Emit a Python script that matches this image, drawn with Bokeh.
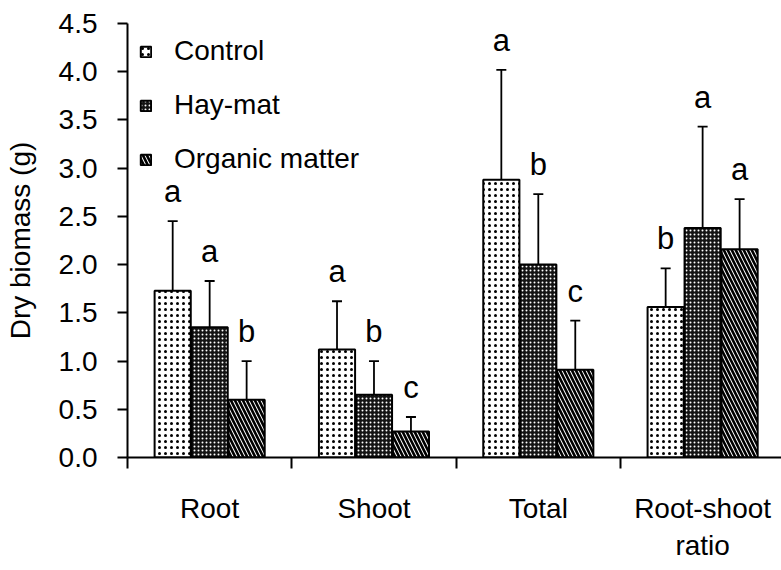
from bokeh.plotting import figure
from bokeh.models import (ColumnDataSource, Range1d, FixedTicker, Whisker, TeeHead,
                          Legend, LegendItem, PrintfTickFormatter)
from bokeh.core.properties import value
from bokeh.embed import file_html
from bokeh.resources import INLINE

# ---- data ----
categories = ["Root", "Shoot", "Total", "Root-shoot\nratio"]
series = ["Control", "Hay-mat", "Organic matter"]
control = [1.73, 1.12, 2.88, 1.56]
control_err = [0.72, 0.50, 1.14, 0.40]
control_letters = ["a", "a", "a", "b"]
haymat = [1.35, 0.65, 2.00, 2.38]
haymat_err = [0.48, 0.35, 0.73, 1.05]
haymat_letters = ["a", "b", "b", "a"]
organic = [0.60, 0.27, 0.91, 2.16]
organic_err = [0.40, 0.15, 0.51, 0.52]
organic_letters = ["b", "c", "c", "a"]
y_ticks = [0.0, 0.5, 1.0, 1.5, 2.0, 2.5, 3.0, 3.5, 4.0, 4.5]

FONT = "Liberation Sans"

p = figure(width=781, height=570, output_backend="svg", toolbar_location=None,
           x_range=Range1d(0, 3.98), y_range=Range1d(0, 4.5),
           min_border_left=127, min_border_right=0, min_border_top=23,
           min_border_bottom=113)
p.outline_line_color = None
p.grid.visible = False
p.background_fill_color = "white"
p.border_fill_color = "white"

styles = [
    dict(fill_color="white", hatch_pattern="dot", hatch_color="black",
         hatch_scale=6, hatch_weight=1.2),
    dict(fill_color="#141414", hatch_pattern="dot", hatch_color="white",
         hatch_scale=4, hatch_weight=1.0),
    dict(fill_color="white", hatch_pattern="left_diagonal_line", hatch_color="black",
         hatch_scale=8, hatch_weight=2.6),
]
vals = [control, haymat, organic]
errs = [control_err, haymat_err, organic_err]
lets = [control_letters, haymat_letters, organic_letters]

bar_w = 0.22
renderers = []
for i, name in enumerate(series):
    xs = [j + 0.5 + (i - 1) * 0.225 for j in range(len(categories))]
    upper = [v + e for v, e in zip(vals[i], errs[i])]
    src = ColumnDataSource(dict(x=xs, top=vals[i], upper=upper, letter=lets[i]))
    r = p.vbar(x="x", top="top", width=bar_w, source=src, line_color="black",
               line_width=2, **styles[i])
    renderers.append(r)
    w = Whisker(source=src, base="x", upper="upper", lower="top", line_width=1.8,
                line_color="black", level="overlay",
                upper_head=TeeHead(size=10, line_width=1.8, line_color="black"),
                lower_head=None)
    p.add_layout(w)
    p.text(x="x", y="upper", text="letter", source=src, text_align="center",
           text_baseline="bottom", y_offset=-12, text_font=value(FONT),
           text_font_size="31px", text_color="black")

# x axis: labels at category centres, tick marks between categories
xa = p.xaxis[0]
xa.ticker = FixedTicker(ticks=[j + 0.5 for j in range(len(categories))],
                        minor_ticks=[float(j) for j in range(len(categories))])
xa.major_label_overrides = {j + 0.5: c for j, c in enumerate(categories)}
xa.major_tick_out = 0
xa.major_tick_in = 0
xa.minor_tick_out = 11
xa.minor_tick_in = 0
xa.minor_tick_line_width = 2
xa.minor_tick_line_color = "black"
xa.axis_line_width = 2
xa.axis_line_color = "black"
xa.major_label_text_font = FONT
xa.major_label_text_font_size = "28px"
xa.major_label_text_color = "black"
xa.major_label_standoff = 24

ya = p.yaxis[0]
ya.ticker = FixedTicker(ticks=y_ticks)
ya.formatter = PrintfTickFormatter(format="%.1f")
ya.major_tick_out = 10
ya.major_tick_in = 0
ya.major_tick_line_width = 2
ya.major_tick_line_color = "black"
ya.minor_tick_out = 0
ya.minor_tick_in = 0
ya.axis_line_width = 2
ya.axis_line_color = "black"
ya.major_label_text_font = FONT
ya.major_label_text_font_size = "28px"
ya.major_label_text_color = "black"
ya.major_label_standoff = 20
ya.axis_label = "Dry biomass (g)"
ya.axis_label_text_font = FONT
ya.axis_label_text_font_size = "28px"
ya.axis_label_text_font_style = "normal"
ya.axis_label_text_color = "black"
ya.axis_label_standoff = 20

legend = Legend(items=[LegendItem(label=s, renderers=[r]) for s, r in zip(series, renderers)],
                location="top_left", margin=12, padding=32, spacing=22,
                glyph_width=13, glyph_height=13, label_standoff=22,
                label_text_font=FONT, label_text_font_size="28px",
                label_text_color="black", border_line_color=None,
                background_fill_alpha=0)
p.add_layout(legend)

open("out.html", "w").write(file_html(p, INLINE))
